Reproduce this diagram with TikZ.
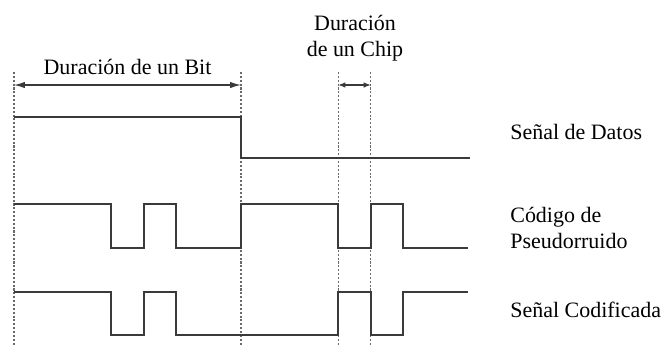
\documentclass[tikz,border=0pt]{standalone}
\usepackage{fontspec}
\setmainfont{Liberation Serif}
\usetikzlibrary{arrows.meta}
\definecolor{grisLinea}{HTML}{3A3A3A}
\definecolor{grisGuia}{HTML}{6A6A6A}
\tikzset{
  senal/.style={draw=grisLinea, line width=1.1pt, line join=miter},
  guia/.style={draw=grisGuia, line width=0.6pt, dash pattern=on 1.2pt off 1pt},
  cota/.style={{Latex[length=2.2mm,width=1.3mm]}-{Latex[length=2.2mm,width=1.3mm]}, draw=grisLinea, line width=0.8pt},
  cotaChica/.style={{Latex[length=1.4mm,width=1.1mm]}-{Latex[length=1.4mm,width=1.1mm]}, draw=grisLinea, line width=0.6pt},
  etiqueta/.style={font=\fontsize{12.5}{15}\selectfont, text=black, inner sep=0pt, align=left},
}
\begin{document}
\begin{tikzpicture}[x=0.02cm, y=-0.02cm]
  \useasboundingbox (0,0) rectangle (669,349);

  % lineas guia
  \foreach \x in {14, 241, 338.3, 370.7}
    \draw[guia] (\x,72) -- (\x,345);

  % cotas
  \coordinate (bitIni) at (14,85);
  \coordinate (bitFin) at (241,85);
  \coordinate (chipIni) at (338.3,85);
  \coordinate (chipFin) at (370.7,85);
  \draw[cota] (bitIni) -- (bitFin);
  \draw[cotaChica] (chipIni) -- (chipFin);
  \node[etiqueta, anchor=south] (durBit) at (127.5,75) {Duración de un Bit};
  \node[etiqueta, align=center, anchor=south] (durChip) at (355,62) {Duración\\de un Chip};

  % senales
  \draw[senal] (14,117) -- (241,117) -- (241,158) -- (470,158);
  \draw[senal] (14,204) -- (111.3,204) -- (111.3,248) -- (143.7,248) -- (143.7,204)
    -- (176.1,204) -- (176.1,248) -- (241,248) -- (241,204) -- (338.3,204)
    -- (338.3,248) -- (370.7,248) -- (370.7,204) -- (403.2,204) -- (403.2,248) -- (468,248);
  \draw[senal] (14,292) -- (111.3,292) -- (111.3,335) -- (143.7,335) -- (143.7,292)
    -- (176.1,292) -- (176.1,335) -- (338.3,335) -- (338.3,292) -- (370.7,292)
    -- (370.7,335) -- (403.2,335) -- (403.2,292) -- (468,292);

  % nombres
  \node[etiqueta, anchor=west] (datos) at (510,132) {Señal de Datos};
  \node[etiqueta, anchor=west] (pseudo) at (510,228) {Código de\\Pseudorruido};
  \node[etiqueta, anchor=west] (codif) at (510,310) {Señal Codificada};
\end{tikzpicture}
\end{document}
